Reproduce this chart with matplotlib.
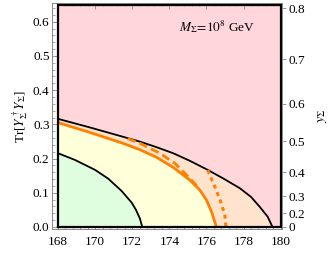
import matplotlib
matplotlib.use("Agg")
import matplotlib.pyplot as plt
from matplotlib.ticker import MultipleLocator

plt.rcParams["font.family"] = ["Liberation Serif", "DejaVu Serif"]
plt.rcParams["mathtext.fontset"] = "stix"

# curves: top mass (GeV) vs Tr[Y^+ Y]
upper_mt = [168.0, 169.68, 171.48, 172.41, 173.27, 174.21, 175.1, 176.0, 176.9, 177.8, 178.4, 178.87, 179.3, 179.56]
upper_tr = [0.316, 0.2915, 0.264, 0.2495, 0.234, 0.2155, 0.1935, 0.1687, 0.142, 0.1132, 0.088, 0.059, 0.030, 0.0]

green_mt = [168.0, 168.91, 169.99, 170.71, 171.43, 171.97, 172.2, 172.41, 172.54]
green_tr = [0.2155, 0.196, 0.167, 0.141, 0.105, 0.071, 0.050, 0.025, 0.0]

solid_mt = [168.0, 169.68, 171.48, 172.41, 173.3, 174.21, 175.1, 175.64, 176.0, 176.27, 176.5, 176.54]
solid_tr = [0.305, 0.277, 0.245, 0.226, 0.204, 0.174, 0.1374, 0.108, 0.079, 0.045, 0.006, 0.0]

dashed_mt = [171.75, 172.41, 173.49, 174.3, 175.1, 175.5]
dashed_tr = [0.2585, 0.2447, 0.2155, 0.186, 0.1424, 0.119]

dotted_mt = [176.07, 176.45, 176.77, 176.99, 177.04, 177.05]
dotted_tr = [0.166, 0.1178, 0.074, 0.035, 0.006, 0.0]

y_right = [0, 0.2, 0.3, 0.4, 0.5, 0.6, 0.7, 0.8]

fig = plt.figure(figsize=(3.32, 2.76), dpi=100)
ax = fig.add_axes([0.1575, 0.1695, 0.6928, 0.8185])
ax.set_xlim(167.69, 180.09)
ax.set_ylim(-0.0067, 0.654)

pink = "#ffd6d9"
peach = "#ffe3cc"
yellow = "#ffffd9"
green = "#dffddf"

ax.fill([168, 180, 180, 168], [0, 0, 0.65, 0.65], color=pink, lw=0, zorder=1)
ax.fill([168] + upper_mt, [0] + upper_tr, color=peach, lw=0, zorder=2)
ax.fill([168] + solid_mt, [0] + solid_tr, color=yellow, lw=0, zorder=3)
ax.fill([168] + green_mt, [0] + green_tr, color=green, lw=0, zorder=4)

ax.plot(upper_mt, upper_tr, color="black", lw=1.3, zorder=6)
ax.plot(green_mt, green_tr, color="black", lw=1.3, zorder=6)
ax.plot(solid_mt, solid_tr, color="#ff8000", lw=2.0, zorder=7, solid_capstyle="butt")
ax.plot(dashed_mt, dashed_tr, color="#ff8000", lw=2.0, ls=(0, (3, 1.6)), zorder=7)
ax.plot(dotted_mt, dotted_tr, color="#ff8000", lw=2.2, ls=(0, (1.3, 1.3)), zorder=7)

ax.plot([168, 180, 180, 168, 168], [0, 0, 0.65, 0.65, 0], color="black", lw=1.6, zorder=8,
        solid_joinstyle="miter")

for s in ax.spines.values():
    s.set_color("#888888")
    s.set_linewidth(0.7)

ax.set_xticks([168, 170, 172, 174, 176, 178, 180])
ax.set_yticks([0.0, 0.1, 0.2, 0.3, 0.4, 0.5, 0.6])
ax.set_yticklabels(["0.0", "0.1", "0.2", "0.3", "0.4", "0.5", "0.6"])
ax.xaxis.set_minor_locator(MultipleLocator(0.4))
ax.yaxis.set_minor_locator(MultipleLocator(0.02))
ax.tick_params(which="both", direction="in", colors="#888888", labelcolor="black",
               top=True, right=False, labelsize=9.5)
ax.tick_params(which="major", length=4, width=0.6)
ax.tick_params(which="minor", length=2, width=0.5)
ax.tick_params(axis="x", pad=5)
ax.tick_params(axis="y", pad=2)

ax.set_ylabel(r"Tr[$Y_\Sigma^\dagger Y_\Sigma$]", fontsize=9.5, labelpad=2)

ax2 = ax.twinx()
ax2.set_ylim(ax.get_ylim())
ax2.set_yticks([v * v for v in y_right])
ax2.set_yticklabels(["0" if v == 0 else f"{v:.1f}" for v in y_right])
ax2.tick_params(direction="out", length=3, width=0.6, colors="#888888", labelcolor="black",
                labelsize=9.5, pad=1.5)
for s in ax2.spines.values():
    s.set_visible(False)
ax2.set_ylabel(r"$y_\Sigma$", fontsize=10, rotation=90, labelpad=8)

ax.text(174.5, 0.585, r"$M_\Sigma\!=\!10^8$ GeV", fontsize=9.5, ha="left", va="center", zorder=9)

fig.savefig("out.png", dpi=100)
